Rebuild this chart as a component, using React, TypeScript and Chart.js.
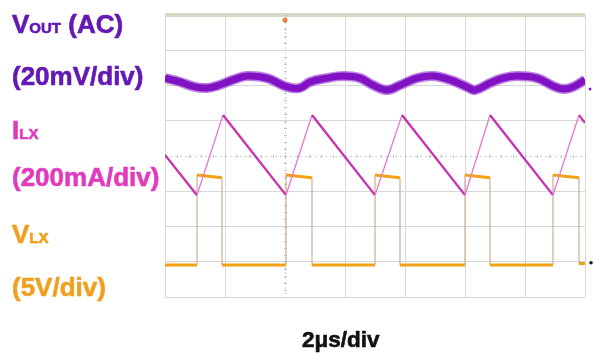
import React, { useEffect, useRef } from "react";
import { Chart, registerables } from "chart.js";

Chart.register(...registerables);

// Time axis in µs (2 µs / div), vertical axis in divisions
const X_MIN = 0;
const X_MAX = 14;
const X_STEP = 2;
const Y_MIN = 0;
const Y_MAX = 8;
const CENTER_X = 4;
const CENTER_Y = 4;

// V_OUT (AC) trace, divisions
const voutT = [0, 0.5, 1.0, 1.4, 1.733, 2.267, 2.733, 3.4, 4.067, 4.5, 4.833, 5.4, 5.933, 6.5, 6.933, 7.4, 7.833, 8.4, 8.933, 9.5, 10.067, 10.333, 10.833, 11.267, 11.733, 12.4, 12.933, 13.267, 13.6, 14];
const voutY = [6.21, 6.1, 5.96, 5.93, 5.99, 6.16, 6.27, 6.21, 5.96, 5.93, 6.1, 6.21, 6.27, 6.21, 6.01, 5.87, 6.01, 6.21, 6.27, 6.16, 5.96, 5.87, 6.07, 6.21, 6.27, 6.21, 5.99, 5.9, 5.96, 6.16];

// I_LX inductor current trace
const ilxT = [0, 1.067, 1.933, 4.033, 4.9, 7.0, 7.9, 10.0, 10.833, 12.933, 13.8, 14];
const ilxY = [4.03, 2.89, 5.16, 2.89, 5.16, 2.89, 5.16, 2.89, 5.16, 2.89, 5.16, 4.94];

// V_LX switch-node trace
const vlxT = [0, 1.067, 1.067, 1.9, 1.9, 4.033, 4.033, 4.9, 4.9, 7.0, 7.0, 7.833, 7.833, 10.0, 10.0, 10.833, 10.833, 12.933, 12.933, 13.8, 13.8, 14];
const vlxY = [0.91, 0.91, 3.46, 3.38, 0.91, 0.91, 3.46, 3.38, 0.91, 0.91, 3.46, 3.38, 0.91, 0.91, 3.46, 3.38, 0.91, 0.91, 3.46, 3.38, 0.95, 0.95];

const labelFont = "'Liberation Sans', Arial, sans-serif";

const toXY = (t: number[], y: number[]) => t.map((v, i) => ({ x: v, y: y[i] }));

const scopeDecor = {
  id: "scopeDecor",
  beforeDatasetsDraw(chart: any) {
    const { ctx, chartArea, scales } = chart;
    const xs = scales.x;
    const ys = scales.y;
    const cx = Math.round(xs.getPixelForValue(CENTER_X)) + 0.5;
    const cy = Math.round(ys.getPixelForValue(CENTER_Y)) + 0.5;
    ctx.save();
    ctx.strokeStyle = "#d2d2d2";
    ctx.lineWidth = 1;
    ctx.setLineDash([2, 3]);
    ctx.beginPath();
    ctx.moveTo(cx, chartArea.top + 2);
    ctx.lineTo(cx, chartArea.bottom);
    ctx.moveTo(chartArea.left, cy);
    ctx.lineTo(chartArea.right, cy);
    ctx.stroke();
    ctx.setLineDash([]);
    ctx.strokeStyle = "#c4c4c4";
    ctx.beginPath();
    for (let v = Y_MIN; v <= Y_MAX + 1e-6; v += 0.2) {
      const py = Math.round(ys.getPixelForValue(v)) + 0.5;
      ctx.moveTo(cx - 1.5, py);
      ctx.lineTo(cx + 1.5, py);
    }
    for (let v = X_MIN; v <= X_MAX + 1e-6; v += 0.4) {
      const px = Math.round(xs.getPixelForValue(v)) + 0.5;
      ctx.moveTo(px, cy - 1.5);
      ctx.lineTo(px, cy + 1.5);
    }
    ctx.stroke();
    ctx.restore();
  },
  afterDatasetsDraw(chart: any) {
    const { ctx, chartArea, scales } = chart;
    const cx = scales.x.getPixelForValue(CENTER_X);
    ctx.save();
    ctx.fillStyle = "#f07a3a";
    ctx.beginPath();
    ctx.arc(cx, chartArea.top + 5, 2.5, 0, Math.PI * 2);
    ctx.fill();
    ctx.fillStyle = "#7a20c0";
    ctx.beginPath();
    ctx.arc(chartArea.right + 5, scales.y.getPixelForValue(5.9), 1.5, 0, Math.PI * 2);
    ctx.fill();
    ctx.fillStyle = "#222";
    ctx.beginPath();
    ctx.arc(chartArea.right + 6, scales.y.getPixelForValue(0.97), 1.8, 0, Math.PI * 2);
    ctx.fill();
    ctx.restore();
  },
};

function Label(props: { left: number; baseline: number; size: number; color: string; children: any }) {
  const top = props.baseline - props.size * 0.8465;
  return (
    <div
      style={{
        position: "absolute",
        left: props.left,
        top,
        fontFamily: labelFont,
        fontWeight: 700,
        fontSize: props.size,
        lineHeight: props.size + "px",
        color: props.color,
        whiteSpace: "nowrap",
        WebkitTextStroke: "0.6px " + props.color,
      }}
    >
      {props.children}
    </div>
  );
}

export default function App() {
  const canvasRef = useRef<HTMLCanvasElement | null>(null);

  useEffect(() => {
    const canvas = canvasRef.current;
    if (!canvas) return;
    const chart = new Chart(canvas, {
      type: "line",
      data: {
        datasets: [
          {
            label: "VOUT",
            data: toXY(voutT, voutY),
            borderColor: "#8012c4",
            borderWidth: 7,
            tension: 0.4,
            pointRadius: 0,
          },
          {
            label: "VOUT edge",
            data: toXY(voutT, voutY),
            borderColor: "rgba(135,25,205,0.55)",
            borderWidth: 10,
            tension: 0.4,
            pointRadius: 0,
          },
          {
            label: "ILX",
            data: toXY(ilxT, ilxY),
            borderColor: "#c834b0",
            borderWidth: 2.2,
            tension: 0,
            pointRadius: 0,
            segment: {
              borderColor: (c: any) => (c.p1.parsed.y > c.p0.parsed.y ? "#e678d2" : "#c834b0"),
              borderWidth: (c: any) => (c.p1.parsed.y > c.p0.parsed.y ? 1.4 : 2.4),
            },
          },
          {
            label: "VLX",
            data: toXY(vlxT, vlxY),
            borderColor: "#f2a114",
            borderWidth: 3,
            tension: 0,
            pointRadius: 0,
            segment: {
              borderColor: (c: any) => (c.p0.parsed.x === c.p1.parsed.x ? "#cfae90" : "#f2a114"),
              borderWidth: (c: any) => (c.p0.parsed.x === c.p1.parsed.x ? 1.2 : 3),
            },
          },
        ],
      },
      options: {
        animation: false,
        responsive: false,
        maintainAspectRatio: false,
        layout: { padding: { left: 165, top: 15, right: 9, bottom: 57 } },
        plugins: { legend: { display: false }, tooltip: { enabled: false } },
        scales: {
          x: {
            type: "linear",
            min: X_MIN,
            max: X_MAX,
            ticks: { display: false, stepSize: X_STEP },
            border: { display: false },
            grid: {
              drawTicks: false,
              color: (c: any) => (c.tick && c.tick.value === CENTER_X ? "rgba(0,0,0,0)" : "#d8d8d8"),
              lineWidth: 1,
            },
          },
          y: {
            type: "linear",
            min: Y_MIN,
            max: Y_MAX,
            ticks: { display: false, stepSize: 1 },
            border: { display: false },
            grid: {
              drawTicks: false,
              color: (c: any) =>
                c.tick && c.tick.value === CENTER_Y
                  ? "rgba(0,0,0,0)"
                  : c.tick && c.tick.value === Y_MAX
                  ? "#d8d6c4"
                  : "#d8d8d8",
              lineWidth: (c: any) => (c.tick && c.tick.value === Y_MAX ? 4 : 1),
            },
          },
        },
      },
      plugins: [scopeDecor],
    });
    return () => chart.destroy();
  }, []);

  return (
    <div style={{ position: "absolute", left: 0, top: 0, width: 594, height: 354, background: "#fff", overflow: "hidden" }}>
      <canvas ref={canvasRef} width={594} height={354} style={{ width: 594, height: 354, display: "block" }} />
      <Label left={12} baseline={33} size={26} color="#6418b4">
        V<span style={{ fontSize: 15 }}>OUT</span> (AC)
      </Label>
      <Label left={12} baseline={85} size={26} color="#6418b4">
        (20mV/div)
      </Label>
      <Label left={12} baseline={139} size={26} color="#e03cbe">
        I<span style={{ fontSize: 15 }}>LX</span>
      </Label>
      <Label left={12} baseline={186} size={26} color="#e03cbe">
        (200mA/div)
      </Label>
      <Label left={12} baseline={243} size={26} color="#f0a01e">
        V<span style={{ fontSize: 15 }}>LX</span>
      </Label>
      <Label left={12} baseline={296} size={26} color="#f0a01e">
        (5V/div)
      </Label>
      <Label left={302} baseline={348} size={22.5} color="#111">
        2μs/div
      </Label>
    </div>
  );
}
